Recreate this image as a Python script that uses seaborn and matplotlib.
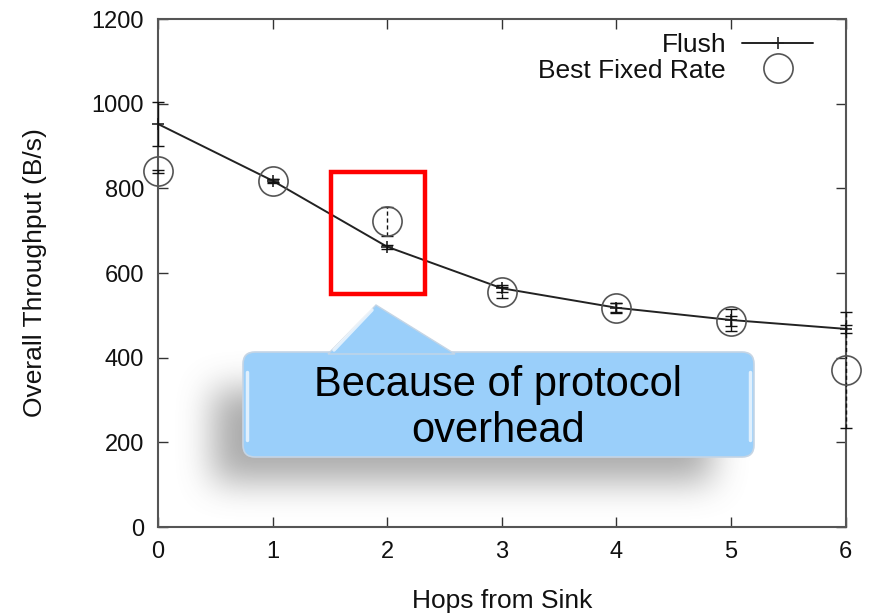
import numpy as np
import matplotlib
matplotlib.use("Agg")
import matplotlib.pyplot as plt
from matplotlib.patches import FancyBboxPatch, Polygon, Rectangle
from matplotlib.transforms import IdentityTransform
import seaborn as sns

# Throughput per hop count
hops = [0, 1, 2, 3, 4, 5, 6]
flush = [952, 818, 662, 564, 518, 489, 468]
flush_err = [52, 5, 5, 8, 10, 25, 10]
best_fixed = [840, 818, 722, 554, 518, 487, 371]
best_fixed_err = [4, 4, 35, 12, 12, 12, 138]
y_ticks = [0, 200, 400, 600, 800, 1000, 1200]

sns.set_style("ticks")
plt.rcParams["font.family"] = ["Liberation Sans", "DejaVu Sans"]

W, H, DPI = 869, 614, 100
fig = plt.figure(figsize=(W / DPI, H / DPI), dpi=DPI)
ax = fig.add_axes([158 / W, 1 - 527 / H, 687.5 / W, 508 / H])

spine_c = "#555555"
sns.lineplot(x=hops, y=flush, ax=ax, color="#222222", lw=1.4, marker="+",
             markersize=9, markeredgewidth=1.2, markeredgecolor="#222222",
             label="Flush", zorder=3, clip_on=False)
ax.errorbar(hops, flush, yerr=flush_err, fmt="none", ecolor="#111111",
            elinewidth=1.0, capsize=4, capthick=1.0, zorder=3, clip_on=False)

sns.lineplot(x=hops, y=best_fixed, ax=ax, linestyle="none", marker="o",
             markersize=21, markerfacecolor="none", markeredgecolor="#555555",
             markeredgewidth=1.2, label="Best Fixed Rate", zorder=4,
             clip_on=False)
eb = ax.errorbar(hops, best_fixed, yerr=best_fixed_err, fmt="none",
                 ecolor="#111111", elinewidth=1.0, capsize=4, capthick=1.0,
                 zorder=3, clip_on=False)
for coll in eb[2]:
    coll.set_linestyle((0, (3, 2)))

ax.set_xlim(0, 6)
ax.set_ylim(0, 1200)
ax.set_xticks(hops)
ax.set_yticks(y_ticks)
ax.tick_params(direction="in", length=7, width=1.0, color="#333333",
               labelsize=17, labelcolor="#111111", top=True, right=True,
               pad=10)
for s in ax.spines.values():
    s.set_color(spine_c)
    s.set_linewidth(1.5)
ax.set_xlabel("Hops from Sink", fontsize=19, labelpad=19, color="#111111")
ax.set_ylabel("Overall Throughput (B/s)", fontsize=19, labelpad=32,
              color="#111111")

leg = ax.legend(loc="upper right", bbox_to_anchor=(0.953, 0.972),
                frameon=False, markerfirst=False, fontsize=19,
                handlelength=2.7, handletextpad=0.6, labelspacing=0.05,
                borderaxespad=0, borderpad=0)
for t in leg.get_texts():
    t.set_color("#111111")

# highlight box around hop 2
ax.add_patch(Rectangle((1.51, 550), 0.82, 288, fill=False, ec="red",
                       lw=3.2, zorder=6, clip_on=False))


def box_blur(a, n, axis):
    pad = n // 2
    widths = [(0, 0), (0, 0)]
    widths[axis] = (pad + 1, pad)
    c = np.cumsum(np.pad(a, widths), axis=axis)
    hi = np.take(c, np.arange(n, n + a.shape[axis]), axis=axis)
    lo = np.take(c, np.arange(0, a.shape[axis]), axis=axis)
    return (hi - lo) / n


# soft drop shadow behind the callout
yy, xx = np.mgrid[0:H, 0:W]
mask = ((xx > 212) & (xx < 712) & (yy > 388) & (yy < 482)).astype(float)
for _ in range(3):
    mask = box_blur(mask, 33, 1)
    mask = box_blur(mask, 33, 0)
shadow = np.zeros((H, W, 4))
shadow[..., :3] = 0.4
shadow[..., 3] = np.clip(mask, 0, 1) * 0.55
fig.figimage(shadow, 0, 0, origin="upper", zorder=5)


# callout bubble (pixel coordinates, origin bottom-left)
def px(x, y):
    return (x, H - y)


blue = "#9ACFFA"
edge = "#c5d5e5"
box = FancyBboxPatch(px(243, 457), 511, 105,
                     boxstyle="round,pad=0,rounding_size=12",
                     transform=IdentityTransform(), fc=blue, ec=edge,
                     lw=1.2, zorder=7)
fig.add_artist(box)
tri = Polygon([px(328, 354), px(376, 305), px(455, 354)], closed=True,
              transform=IdentityTransform(), fc=blue, ec=edge, lw=1.0,
              zorder=7)
fig.add_artist(tri)
fig.add_artist(Polygon([px(329, 356), px(456, 356), px(456, 359), px(329, 359)],
                       transform=IdentityTransform(), fc=blue, ec="none",
                       zorder=7))
# glossy edge highlights
for xs in (247, 750):
    fig.add_artist(plt.Line2D([xs, xs], [H - 372, H - 440], color="white",
                              lw=2.5, alpha=0.7, transform=IdentityTransform(),
                              zorder=8))
fig.add_artist(plt.Line2D([334, 372], [H - 350, H - 310], color="white",
                          lw=2.5, alpha=0.7, transform=IdentityTransform(),
                          zorder=8))

fig.text(498 / W, 1 - 408 / H, "Because of protocol\noverhead", fontsize=30,
         ha="center", va="center", linespacing=1.2, color="black", zorder=9)

fig.savefig("out.png", dpi=DPI)
